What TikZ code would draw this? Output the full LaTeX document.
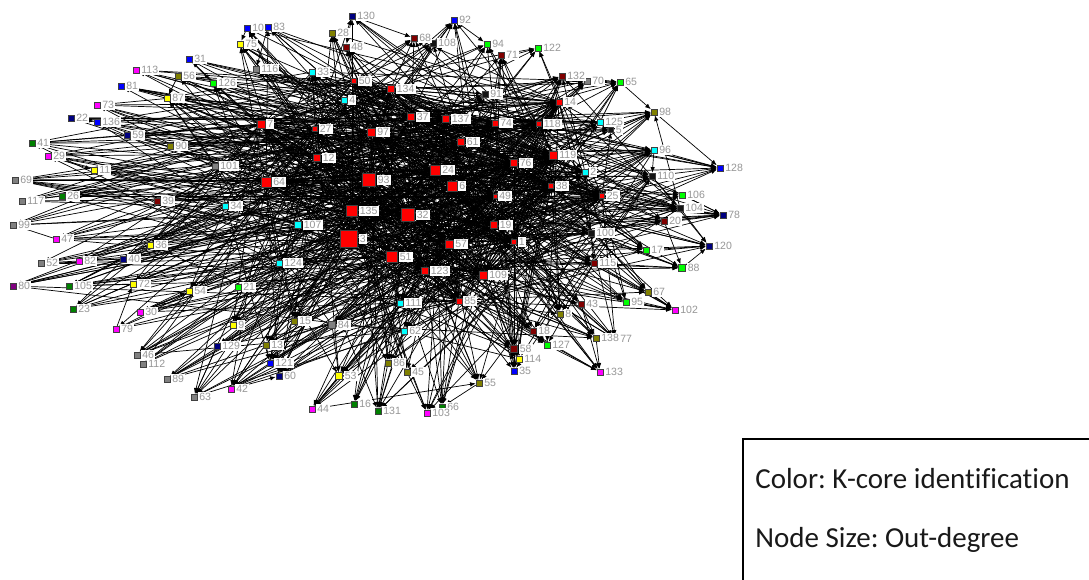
\documentclass[tikz,border=0pt]{standalone}
\usepackage{fontspec}
\setmainfont{Liberation Sans}
\newfontfamily\legendfont[Ligatures=NoCommon]{Carlito}
\usetikzlibrary{arrows.meta,backgrounds}

% K-core 颜色
\definecolor{kred}{RGB}{255,0,0}
\definecolor{kdred}{RGB}{128,0,0}
\definecolor{kcyan}{RGB}{0,255,255}
\definecolor{kblue}{RGB}{0,0,255}
\definecolor{knavy}{RGB}{0,0,128}
\definecolor{kgreen}{RGB}{0,255,0}
\definecolor{kdgreen}{RGB}{0,128,0}
\definecolor{kolive}{RGB}{128,128,0}
\definecolor{kyellow}{RGB}{255,255,0}
\definecolor{kmag}{RGB}{255,0,255}
\definecolor{kgray}{RGB}{128,128,128}
\definecolor{kpurple}{RGB}{128,0,128}
\definecolor{kblack}{RGB}{20,20,20}
\definecolor{tagtext}{RGB}{150,150,150}

% 节点分组
\def\corelist{3,93,32,135,64,51,24,6,7,97,61,57,123,109,12,19,76,119,137,37,134,74,1,49,38,25,27,50,118,14,85}
\def\midlist{107,124,34,101,111,62,4,33,2,125,96,100,115,104,110,84}
\def\outerlist{107,124,34,111,62,4,33,2,125,96,101,116,70,84,69,117,99,52,46,112,89,63,108,91,110,104,100,5,48,68,71,132,39,20,115,43,18,58,10,83,31,81,136,92,128,121,35,77,130,22,59,40,78,120,129,60,126,94,122,65,106,17,88,21,95,127,41,26,105,23,16,131,66,56,90,28,98,15,13,86,45,55,67,8,138,75,87,11,36,72,54,9,53,114,113,73,29,47,82,30,79,42,44,103,102,133,80}

\begin{document}
\begin{tikzpicture}[
    x=0.02cm, y=-0.02cm,
    % 节点样式定义
    vertex/.style={
        rectangle,             % 方形节点
        draw=black!75,         % 边框
        line width=0.3pt,
        inner sep=0pt          % 内部填充为0
    },
    % 标签样式定义
    tag/.style={
        fill=white,            % 白底
        text=tagtext,          % 灰色文字
        inner sep=0.6pt,
        font=\fontsize{6}{6.5}\selectfont
    },
    % 有向边样式定义
    link/.style={
        draw=black,
        line width=0.4pt,
        -{Latex[length=3.2pt, width=2.6pt]}
    },
    % 图例文字
    legend text/.style={
        font=\legendfont\fontsize{16.5}{18}\selectfont\frenchspacing,
        text=black!90,
        anchor=west,
        inner sep=0pt
    }
]
\useasboundingbox (0,0) rectangle (1089,579);
\clip (0,0) rectangle (1089,579);

% 定义节点
\foreach \i/\x/\y/\c/\s in {
    3/349/239/kred/17, 93/369/180/kred/13, 32/408/215/kred/13, 135/352/211/kred/11,
    64/266/182/kred/10, 51/392/257/kred/11, 24/435/170/kred/10, 6/452/186/kred/10,
    7/261/124/kred/8, 97/371/132/kred/8, 61/461/142/kred/7, 57/449/244/kred/8,
    123/425/271/kred/7, 109/483/275/kred/8, 12/317/158/kred/7, 19/494/225/kred/7,
    76/514/163/kred/7, 119/553/155/kred/8, 137/446/119/kred/7, 37/411/117/kred/7,
    134/391/89/kred/7, 74/495/123/kred/6, 1/514/242/kred/5, 49/495/196/kred/4,
    38/551/186/kred/5, 25/602/196/kred/5, 27/315/129/kred/5, 50/354/81/kred/5,
    118/539/124/kred/5, 14/559/102/kred/6, 85/459/301/kred/6,
    107/298/225/kcyan/7, 124/279/263/kcyan/6, 34/225/206/kcyan/6, 111/400/303/kcyan/6,
    62/404/331/kcyan/6, 4/344/100/kcyan/6, 33/312/72/kcyan/6, 2/585/172/kcyan/6,
    125/600/122/kcyan/6, 96/654/150/kcyan/6,
    101/215/166/kgray/6, 116/256/69/kgray/6, 70/587/81/kgray/6, 84/332/325/kgray/7,
    69/15/180/kgray/6, 117/22/201/kgray/6, 99/13/225/kgray/6, 52/41/263/kgray/6,
    46/137/355/kgray/6, 112/143/364/kgray/6, 89/167/379/kgray/6, 63/194/397/kgray/6,
    108/433/43/kblack/6, 91/485/94/kblack/6, 110/652/176/kblack/6, 104/680/208/kblack/6,
    100/591/233/kblack/6, 5/611/130/kblack/5,
    48/346/47/kdred/6, 68/414/38/kdred/6, 71/501/55/kdred/6, 132/562/76/kdred/6,
    39/157/201/kdred/6, 20/664/221/kdred/6, 115/594/263/kdred/6, 43/581/304/kdred/6,
    18/533/331/kdred/6, 58/514/349/kdred/7,
    10/247/28/kblue/6, 83/268/27/kblue/6, 31/189/59/kblue/6, 81/121/86/kblue/6,
    136/97/122/kblue/6, 92/454/20/kblue/6, 128/720/168/kblue/6, 121/270/363/kblue/6,
    35/514/371/kblue/6, 77/615/339/kblue/6,
    130/352/16/knavy/6, 22/71/118/knavy/6, 59/127/135/knavy/6, 40/123/259/knavy/6,
    78/723/215/knavy/6, 120/709/246/knavy/6, 129/217/346/knavy/6, 60/279/376/knavy/6,
    126/213/83/kgreen/6, 94/487/44/kgreen/6, 122/538/48/kgreen/6, 65/620/82/kgreen/6,
    106/682/195/kgreen/6, 17/646/250/kgreen/6, 88/682/268/kgreen/7, 21/238/287/kgreen/6,
    95/626/302/kgreen/6, 127/547/345/kgreen/6,
    41/32/143/kdgreen/6, 26/62/196/kdgreen/6, 105/69/286/kdgreen/6, 23/73/309/kdgreen/6,
    16/354/404/kdgreen/6, 131/378/411/kdgreen/6, 66/442/407/kdgreen/6,
    56/178/76/kolive/6, 90/170/146/kolive/6, 28/332/33/kolive/6, 98/654/112/kolive/6,
    15/294/321/kolive/6, 13/266/345/kolive/6, 86/388/363/kolive/6, 45/407/372/kolive/6,
    55/479/383/kolive/6, 67/648/292/kolive/6, 8/560/314/kolive/6, 138/596/338/kolive/6,
    75/240/44/kyellow/6, 87/167/98/kyellow/6, 11/94/170/kyellow/6, 36/150/245/kyellow/6,
    72/133/284/kyellow/6, 54/189/291/kyellow/6, 9/233/325/kyellow/6, 53/339/376/kyellow/7,
    114/519/359/kyellow/6,
    113/136/70/kmag/6, 73/97/105/kmag/6, 29/48/156/kmag/6, 47/56/239/kmag/6,
    82/79/261/kmag/6, 30/140/312/kmag/6, 79/116/329/kmag/6, 42/231/389/kmag/6,
    44/312/409/kmag/6, 103/427/413/kmag/6, 102/675/310/kmag/6, 133/600/372/kmag/6,
    80/13/286/kpurple/6}
    \node[vertex, fill=\c, minimum size=\s*0.02cm,
          label={[tag, label distance=0.4pt]right:\i}] (n\i) at (\x,\y) {};

% 边 (放在背景层)
\begin{scope}[on background layer]
    \foreach \a in \corelist {
        \foreach \b in \corelist {
            \pgfmathtruncatemacro{\r}{mod(\a*17+\b*29,11)}
            \ifnum\a=\b\relax\else\ifnum\r<4 \draw[link] (n\a) -- (n\b);\fi\fi
        }
    }
    \foreach \a in \corelist {
        \foreach \b in \outerlist {
            \pgfmathtruncatemacro{\r}{mod(\a*13+\b*7,9)}
            \ifnum\r<2 \draw[link] (n\a) -- (n\b);\fi
        }
    }
    \foreach \a in \midlist {
        \foreach \b in \outerlist {
            \pgfmathtruncatemacro{\r}{mod(\a*5+\b*11,17)}
            \ifnum\a=\b\relax\else\ifnum\r<1 \draw[link] (n\a) -- (n\b);\fi\fi
        }
    }
    \foreach \a/\b in {65/98, 98/128, 96/128, 110/128, 104/78, 20/78, 106/78,
        104/120, 17/120, 88/120, 20/88, 115/88, 100/88, 96/110, 125/98, 5/98,
        132/65, 70/65, 125/65, 67/102, 95/102, 138/133, 127/133, 43/133,
        18/127, 58/114, 55/66, 45/103, 44/55, 130/68, 92/94, 130/48, 83/116,
        10/75, 31/126, 56/87, 22/136, 29/11, 26/117, 47/99, 82/52, 40/82,
        72/105, 54/23, 30/54, 79/72, 129/63, 42/60, 13/121, 53/44, 86/131}
        \draw[link] (n\a) -- (n\b);
\end{scope}

% 图例
\draw[line width=1.2pt] (743,439) rectangle (1110,600);
\node[legend text] (kcore) at (755,479) {Color: K-core identification};
\node[legend text] (outdeg) at (755,540) {Node Size: Out-degree};

\end{tikzpicture}
\end{document}
